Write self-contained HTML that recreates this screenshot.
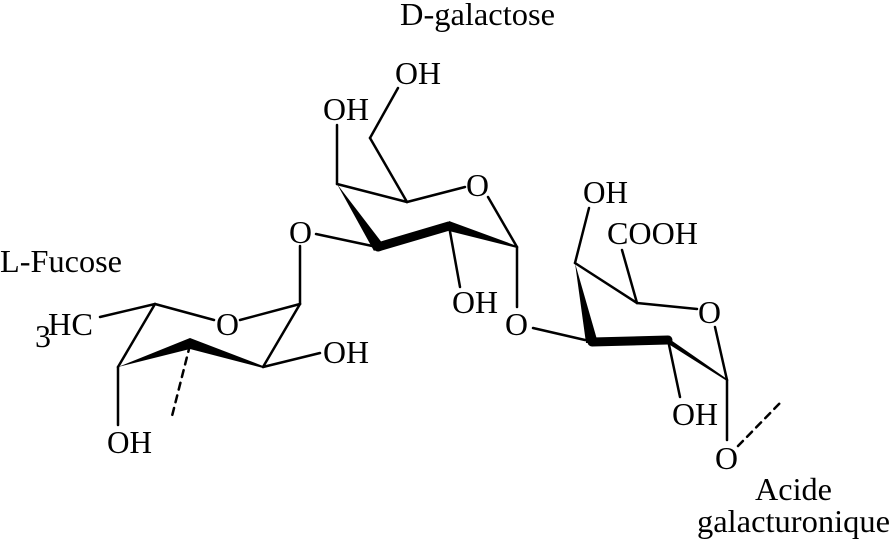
<!DOCTYPE html>
<html><head><meta charset="utf-8"><style>
html,body{margin:0;padding:0;background:#fff;}
svg{display:block;}
text{font-family:"Liberation Serif",serif;font-size:32px;fill:#000;}
</style></head><body>
<svg width="892" height="547" viewBox="0 0 892 547" xmlns="http://www.w3.org/2000/svg">
<g stroke="#000" stroke-width="2.5" fill="none" stroke-linecap="round">
<line x1="155" y1="304" x2="214" y2="320"/>
<line x1="240" y1="320" x2="300" y2="304"/>
<line x1="300" y1="304" x2="263" y2="367"/>
<line x1="118" y1="367" x2="155" y2="304"/>
<line x1="155" y1="304" x2="100" y2="317"/>
<line x1="118" y1="367" x2="118" y2="425"/>
<line x1="263" y1="367" x2="320" y2="353"/>
<line x1="300" y1="304" x2="300" y2="246"/>
<line x1="190" y1="345" x2="171" y2="420" stroke-dasharray="7,6"/>
<line x1="337" y1="184" x2="407" y2="202"/>
<line x1="407" y1="202" x2="465" y2="187"/>
<line x1="488" y1="197" x2="517" y2="247"/>
<line x1="337" y1="184" x2="337" y2="125"/>
<line x1="407" y1="202" x2="370" y2="138"/>
<line x1="370" y1="138" x2="398" y2="88"/>
<line x1="377" y1="247" x2="316" y2="234"/>
<line x1="449" y1="226" x2="460" y2="287"/>
<line x1="517" y1="247" x2="517" y2="307"/>
<line x1="533" y1="328" x2="585" y2="340"/>
<line x1="575" y1="263" x2="637" y2="303"/>
<line x1="637" y1="303" x2="697" y2="309"/>
<line x1="715" y1="327" x2="727" y2="380"/>
<line x1="575" y1="263" x2="589" y2="208"/>
<line x1="637" y1="303" x2="622" y2="250"/>
<line x1="668" y1="340" x2="680" y2="397"/>
<line x1="727" y1="380" x2="727" y2="440"/>
<line x1="738" y1="446" x2="780" y2="403" stroke-dasharray="7,6"/>
</g>
<g fill="#000">
<polygon points="118,367 190,338 190,349"/>
<polygon points="190,338 263,366 263,368 190,349"/>
<polygon points="337,184 383,244 374,251"/>
<line x1="378" y1="247" x2="449" y2="226" stroke="#000" stroke-width="9" stroke-linecap="round"/>
<polygon points="449,221 517,246 517,248 449,231"/>
<polygon points="575,263 598,343 586,343"/>
<line x1="592" y1="342" x2="668" y2="340" stroke="#000" stroke-width="9" stroke-linecap="round"/>
<polygon points="665,336 727,379 727,381 670,345"/>
</g>
<text x="400" y="25" textLength="155" lengthAdjust="spacingAndGlyphs">D-galactose</text>
<text x="0" y="272" textLength="122" lengthAdjust="spacingAndGlyphs">L-Fucose</text>
<text x="35" y="347" font-size="21">3</text>
<text x="48" y="335" textLength="45" lengthAdjust="spacingAndGlyphs">HC</text>
<text x="216" y="335" textLength="23" lengthAdjust="spacingAndGlyphs">O</text>
<text x="107" y="453" textLength="45" lengthAdjust="spacingAndGlyphs">OH</text>
<text x="323" y="363" textLength="46" lengthAdjust="spacingAndGlyphs">OH</text>
<text x="289" y="243" textLength="23" lengthAdjust="spacingAndGlyphs">O</text>
<text x="323" y="120" textLength="46" lengthAdjust="spacingAndGlyphs">OH</text>
<text x="395" y="84" textLength="46" lengthAdjust="spacingAndGlyphs">OH</text>
<text x="466" y="196" textLength="23" lengthAdjust="spacingAndGlyphs">O</text>
<text x="452" y="313" textLength="46" lengthAdjust="spacingAndGlyphs">OH</text>
<text x="505" y="335" textLength="23" lengthAdjust="spacingAndGlyphs">O</text>
<text x="583" y="203" textLength="45" lengthAdjust="spacingAndGlyphs">OH</text>
<text x="607" y="244" textLength="91" lengthAdjust="spacingAndGlyphs">COOH</text>
<text x="698" y="323" textLength="23" lengthAdjust="spacingAndGlyphs">O</text>
<text x="672" y="425" textLength="46" lengthAdjust="spacingAndGlyphs">OH</text>
<text x="715" y="469" textLength="23" lengthAdjust="spacingAndGlyphs">O</text>
<text x="755" y="500" textLength="77" lengthAdjust="spacingAndGlyphs">Acide</text>
<text x="697" y="532" textLength="193" lengthAdjust="spacingAndGlyphs">galacturonique</text>
</svg>
</body></html>
